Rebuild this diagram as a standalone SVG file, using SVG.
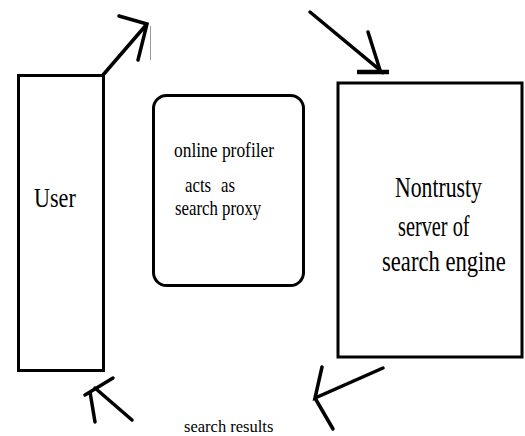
<svg xmlns="http://www.w3.org/2000/svg" width="525" height="436" viewBox="0 0 525 436">
<style>
.box{fill:#fff;stroke:#000;stroke-width:3}
.ln{fill:none;stroke:#000;stroke-width:3.5;stroke-linecap:round}
text{font-family:'Liberation Serif','DejaVu Serif','Times New Roman',serif;fill:#000}
</style>
<rect width="525" height="436" fill="#fff"/>
<g id="user">
<rect class="box" x="18.5" y="75.5" width="85" height="295"/>
<text transform="translate(34 207) scale(0.79 1)" font-size="28">User</text>
</g>
<g id="profiler">
<rect class="box" x="153.5" y="95.5" width="150" height="190" rx="13"/>
<text transform="translate(174 157) scale(0.83 1)" font-size="21">online profiler</text>
<text transform="translate(185 192) scale(0.8 1)" font-size="21">acts</text>
<text transform="translate(221 192) scale(0.8 1)" font-size="21">as</text>
<text transform="translate(175 215) scale(0.8 1)" font-size="21">search proxy</text>
</g>
<g id="server">
<rect class="box" x="338" y="83" width="184" height="274" stroke-width="4"/>
<text transform="translate(395 197) scale(0.75 1)" font-size="29">Nontrusty</text>
<text transform="translate(398 236) scale(0.7 1)" font-size="29">server of</text>
<text transform="translate(382 271) scale(0.78 1)" font-size="29">search engine</text>
</g>
<g id="connectors">
<path class="ln" d="M103 75 L147 24 M119 16 L147 24 L138 60"/>
<path d="M150.5 26 V60" stroke="#999" stroke-width="1" fill="none"/>
<path class="ln" d="M310 12 L380 70 L368 32"/>
<path d="M357 72 H389" stroke="#000" stroke-width="4.5" fill="none"/>
<path class="ln" d="M383 368 L315 398 L322 367 M315 398 L333 429"/>
<path class="ln" d="M85 395 L113 378 M95 388 L132 420 M90 392 L95 422"/>
<text x="184" y="432" font-size="16.5">search results</text>
</g>
</svg>
